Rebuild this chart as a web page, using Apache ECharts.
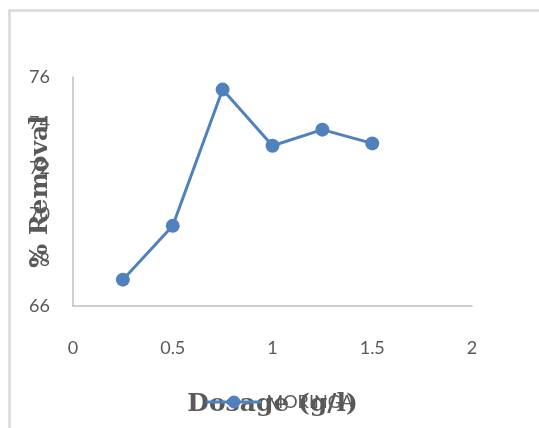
<!DOCTYPE html>
<html>
<head>
<meta charset="utf-8">
<script src="https://cdn.jsdelivr.net/npm/echarts@6/dist/echarts.min.js"></script>
<style>
  html, body { margin: 0; padding: 0; background: #fff; }
  #chart { width: 539px; height: 428px; }
</style>
</head>
<body>
<div id="chart"></div>
<script>
// Removal efficiency vs. adsorbent dosage
const seriesName = 'MORINGA';
const dosage = [0.25, 0.5, 0.75, 1.0, 1.25, 1.5];
const removal = [67.15, 69.5, 75.45, 73.0, 73.7, 73.1];
const xTicks = { min: 0, max: 2, interval: 0.5 };
const yTicks = { min: 66, max: 76, interval: 2 };

const blue = '#4f81bd';
const grey = '#595959';
const axisGrey = '#bfbfbf';
const tickFont = 'Lato, "Open Sans", sans-serif';
const titleFont = '"DejaVu Serif", "Liberation Serif", serif';

const chart = echarts.init(document.getElementById('chart'), null, { renderer: 'canvas' });

chart.setOption({
  animation: false,
  backgroundColor: '#fff',
  graphic: [{
    type: 'rect',
    shape: { x: 9.5, y: 10.5, width: 600, height: 500 },
    style: { fill: 'none', stroke: '#d9d9d9', lineWidth: 2.5 },
    silent: true,
    z: -10
  }],
  grid: { left: 73, right: 67, top: 77, bottom: 122, containLabel: false, outerBoundsMode: 'none' },
  legend: {
    data: [seriesName],
    left: 200,
    top: 388,
    itemWidth: 55,
    itemHeight: 16,
    itemGap: 10,
    lineStyle: { width: 3 },
    textStyle: { color: grey, fontFamily: tickFont, fontSize: 18 }
  },
  xAxis: {
    type: 'value',
    min: xTicks.min,
    max: xTicks.max,
    interval: xTicks.interval,
    name: 'Dosage (g/l)',
    nameLocation: 'middle',
    nameGap: 86,
    nameMoveOverlap: false,
    nameTextStyle: { color: grey, fontFamily: titleFont, fontWeight: 'bold', fontSize: 25 },
    axisLine: { show: true, lineStyle: { color: axisGrey, width: 1.5 } },
    axisTick: { show: false },
    splitLine: { show: false },
    axisLabel: { color: grey, fontFamily: tickFont, fontSize: 18, margin: 33 }
  },
  yAxis: {
    type: 'value',
    min: yTicks.min,
    max: yTicks.max,
    interval: yTicks.interval,
    name: '% Removal',
    nameLocation: 'middle',
    nameRotate: 90,
    nameGap: 20,
    nameMoveOverlap: false,
    nameTextStyle: { color: grey, fontFamily: titleFont, fontWeight: 'bold', fontSize: 25 },
    axisLine: { show: true, lineStyle: { color: axisGrey, width: 1.5 } },
    axisTick: { show: false },
    splitLine: { show: false },
    axisLabel: { color: grey, fontFamily: tickFont, fontSize: 18, margin: 23 }
  },
  series: [{
    name: seriesName,
    type: 'line',
    data: dosage.map((d, i) => [d, removal[i]]),
    symbol: 'circle',
    symbolSize: 14,
    lineStyle: { color: blue, width: 3 },
    itemStyle: { color: blue },
    label: { show: false }
  }]
});
</script>
</body>
</html>
